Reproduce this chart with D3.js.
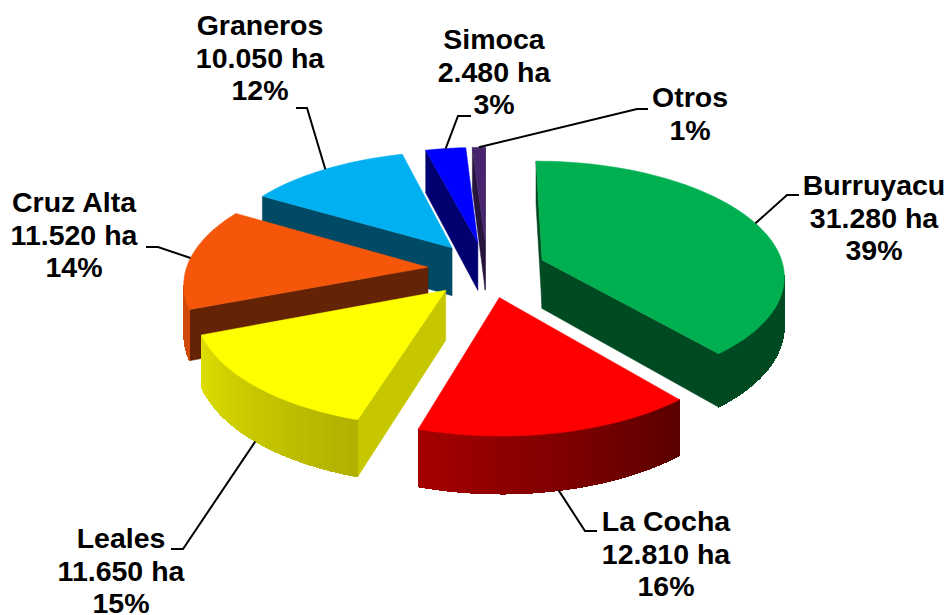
<!DOCTYPE html>
<html>
<head>
<meta charset="utf-8">
<script src="https://cdn.jsdelivr.net/npm/d3@7"></script>
<style>
  body { margin: 0; background: #fff; }
  text { font-family: "Liberation Sans", Arial, sans-serif; font-weight: bold; font-size: 28.5px; fill: #000; text-anchor: middle; }
</style>
</head>
<body>
<div id="chart"></div>
<script>
// values
const names = ["Burruyacu", "La Cocha", "Leales", "Cruz Alta", "Graneros", "Simoca", "Otros"];
const hectares = [31280, 12810, 11650, 11520, 10050, 2480, 800];
const percents = [39, 16, 15, 14, 12, 3, 1];
const hideHectares = ["Otros"];

// styles
const topColors = ["#00b050", "#ff0000", "#ffff00", "#f5560a", "#00b0f0", "#0000ff", "#47246e"];
const arcShadeStart = [0.42, 0.35, 0.69, 0.85, 0.6, 0.5, 0.5];
const arcShadeEnd = [0.42, 0.65, 0.87, 0.85, 0.6, 0.5, 0.5];
const sideShades = [0.42, 0.4, 0.78, 0.41, 0.42, 0.44, 0.55];

// label layout
const labelX = [874, 666, 121, 74, 260, 494, 690];
const labelY = [195, 531, 548, 212, 35, 49, 107];
const elbows = [[787, 195, 799], [585, 531, 597], [183, 549, 171], [158, 247, 146], [307, 108, 296], [458, 116, 471], [637, 109, 648]];
const leaderOnBottom = [0, 1, 1, 0, 0, 0, 0];
const lineHeight = 32.5;

// pie geometry
const ctx = { w: 947, h: 615, cx: 487, cy: 269.5, rx: 242, ry: 113.5, depth: 49, persp: 8, explode: 0.245 };

const haFormat = d3.formatLocale({ decimal: ",", thousands: ".", grouping: [3], currency: ["", ""] }).format(",d");

function project(u, v, z) {
    const k = ctx.persp / (ctx.persp + v);
    return [ctx.cx + u * ctx.rx * k, ctx.cy + k * (-v * ctx.ry + z * ctx.depth)];
}

function slicePoint(d, a, r, z) {
    const mid = (d.startAngle + d.endAngle) / 2;
    return project(ctx.explode * Math.sin(mid) + r * Math.sin(a), ctx.explode * Math.cos(mid) + r * Math.cos(a), z);
}

function shadeColor(base, s) {
    const c = d3.rgb(base);
    return d3.rgb(c.r * s, c.g * s, c.b * s).formatHex();
}

function arcAngles(d) {
    const n = Math.max(2, Math.ceil((d.endAngle - d.startAngle) / (Math.PI / 90)));
    return d3.range(n + 1).map(i => d.startAngle + (d.endAngle - d.startAngle) * i / n);
}

function createViz() {
    const svg = d3.select("#chart").append("svg").attr("width", ctx.w).attr("height", ctx.h);
    const line = d3.line();
    const path = pts => line(pts) + "Z";

    const slices = d3.pie().sort(null).value(d => d)(hectares);
    slices.forEach((d, i) => { d.i = i; d.mid = (d.startAngle + d.endAngle) / 2; });

    // far slices first
    const order = slices.slice().sort((a, b) => Math.cos(b.mid) - Math.cos(a.mid));

    order.forEach(d => {
        const g = svg.append("g").attr("class", "slice");
        const color = topColors[d.i];
        const side = shadeColor(color, sideShades[d.i]);

        // flat sides, only the ones facing the viewer
        [[d.startAngle, 1], [d.endAngle, -1]].forEach(s => {
            const pts = [slicePoint(d, 0, 0, 0), slicePoint(d, s[0], 1, 0), slicePoint(d, s[0], 1, 1), slicePoint(d, 0, 0, 1)];
            if (d3.polygonArea(pts) * s[1] > 0) {
                g.append("path").attr("d", path(pts)).attr("fill", side).attr("stroke", side).attr("stroke-width", 0.5);
            }
        });

        // rim, drawn in narrow bands for the shading
        const angles = arcAngles(d);
        const shade = d3.scaleLinear().domain([d.startAngle, d.endAngle]).range([arcShadeStart[d.i], arcShadeEnd[d.i]]);
        d3.pairs(angles).forEach(p => {
            const pts = [slicePoint(d, p[0], 1, 0), slicePoint(d, p[1], 1, 0), slicePoint(d, p[1], 1, 1), slicePoint(d, p[0], 1, 1)];
            if (d3.polygonArea(pts) > 0) {
                const c = shadeColor(color, shade((p[0] + p[1]) / 2));
                g.append("path").attr("d", path(pts)).attr("fill", c).attr("stroke", c)
                    .attr("stroke-width", 1).attr("shape-rendering", "crispEdges");
            }
        });

        // top face
        const top = [slicePoint(d, 0, 0, 0)].concat(angles.map(a => slicePoint(d, a, 1, 0)));
        g.append("path").attr("d", path(top)).attr("fill", color).attr("stroke", color).attr("stroke-width", 0.5);
    });

    // leader lines
    slices.forEach(d => {
        const e = elbows[d.i];
        const start = slicePoint(d, d.mid, 1, leaderOnBottom[d.i]);
        svg.append("path")
            .attr("d", d3.line()([start, [e[0], e[1]], [e[2], e[1]]]))
            .attr("fill", "none")
            .attr("stroke", "#000")
            .attr("stroke-width", 2);
    });

    // labels
    names.forEach((name, i) => {
        const rows = [name];
        if (!hideHectares.includes(name)) rows.push(haFormat(hectares[i]) + " ha");
        rows.push(percents[i] + "%");
        const t = svg.append("text").attr("x", labelX[i]).attr("y", labelY[i]);
        rows.forEach((r, j) => {
            t.append("tspan").attr("x", labelX[i]).attr("y", labelY[i] + j * lineHeight).text(r);
        });
    });
}

createViz();
</script>
</body>
</html>
